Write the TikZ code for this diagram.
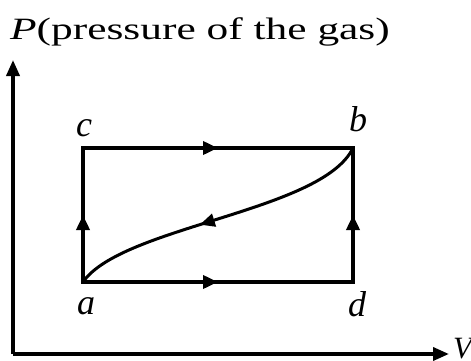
\documentclass[tikz,border=0pt]{standalone}
\usepackage{fontspec}
\setmainfont{Liberation Serif}
\usetikzlibrary{arrows.meta,decorations.markings}

\begin{document}
\begin{tikzpicture}[
  x=1pt, y=-1pt,
  edgeline/.style={line width=3.6pt, line cap=rect},
  corner/.style={font=\fontsize{36}{36}\selectfont\itshape, inner sep=0pt},
  flow/.style={postaction={decorate}, decoration={markings,
    mark=at position #1 with {\arrow{Triangle[length=15pt,width=13pt]}}}},
  flow/.default=0.5,
  axisline/.style={line width=3.6pt, -{Triangle[length=16pt,width=13pt]}}
]
\useasboundingbox (0,0) rectangle (471,361);

% title and axes
\node[anchor=base west, inner sep=0pt] (title) at (10,40)
  {\scalebox{1.4}[1]{\fontsize{31}{32}\selectfont\textit{P}(pressure of the gas)}};
\coordinate (origin) at (13,354);
\coordinate (ptop) at (13,60);
\coordinate (vend) at (449,354);
\draw[axisline] (origin) -- (ptop);
\draw[axisline] (origin) -- (vend);
\node[anchor=base west, inner sep=0pt, font=\fontsize{31}{32}\selectfont\itshape] (vlabel) at (453,358) {V};

% the cycle
\coordinate (a) at (83,282);
\coordinate (b) at (353,148);
\coordinate (c) at (83,148);
\coordinate (d) at (353,282);
\draw[edgeline, flow] (a) -- (c);
\draw[edgeline, flow] (c) -- (b);
\draw[edgeline, flow] (a) -- (d);
\draw[edgeline, flow] (d) -- (b);
\draw[line width=3pt, flow=0.57] (b) .. controls (322,212) and (122,226) .. (a);

% corner labels
\node[corner] (la) at (86,306) {a};
\node[corner] (lb) at (358,119) {b};
\node[corner] (lc) at (84,128) {c};
\node[corner] (ld) at (357,304) {d};
\end{tikzpicture}
\end{document}
